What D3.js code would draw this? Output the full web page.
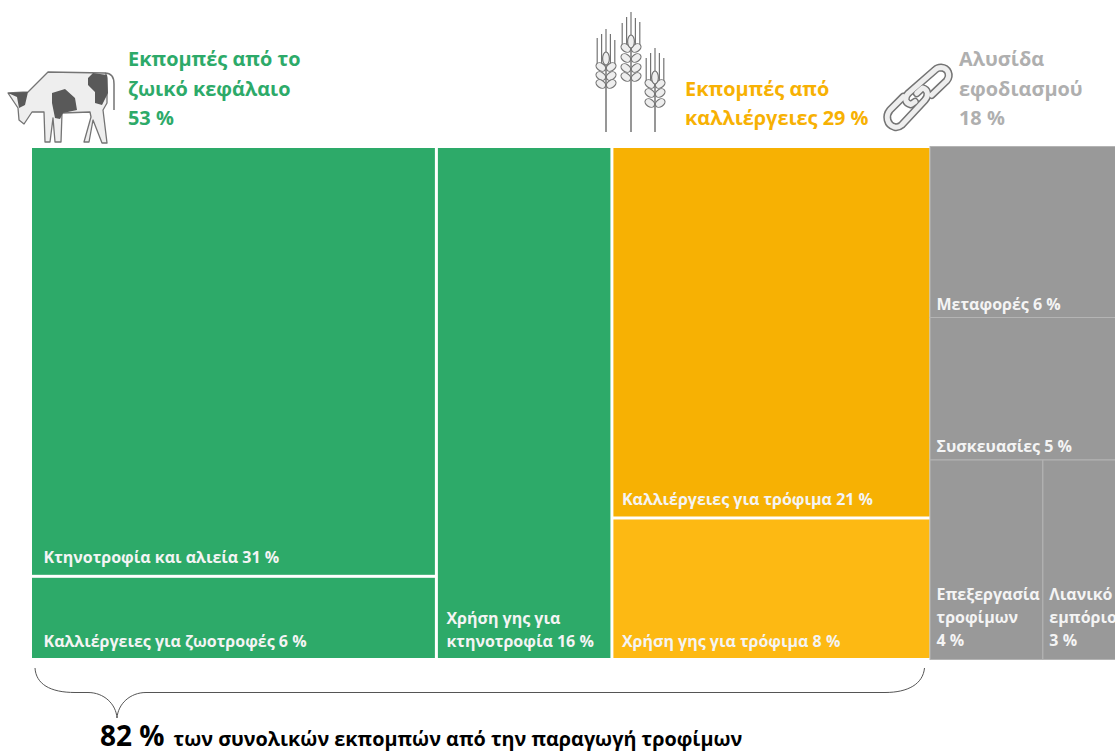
<!DOCTYPE html>
<html lang="el">
<head>
<meta charset="utf-8">
<title>Εκπομπές από την παραγωγή τροφίμων</title>
<script src="https://cdn.jsdelivr.net/npm/d3@7/dist/d3.min.js"></script>
<style>
  html, body { margin: 0; padding: 0; background: #fff; overflow: hidden; }
  svg { display: block; }
  text { font-family: "Open Sans", sans-serif; font-weight: 700; }
</style>
</head>
<body>
<div id="chart"></div>
<script>
// values (%)
const livestockLabels = [["Κτηνοτροφία και αλιεία 31 %"], ["Καλλιέργειες για ζωοτροφές 6 %"], ["Χρήση γης για", "κτηνοτροφία 16 %"]];
const livestockValues = [31, 6, 16];
const cropLabels = [["Καλλιέργειες για τρόφιμα 21 %"], ["Χρήση γης για τρόφιμα 8 %"]];
const cropValues = [21, 8];
const supplyLabels = [["Μεταφορές 6 %"], ["Συσκευασίες 5 %"], ["Επεξεργασία", "τροφίμων", "4 %"], ["Λιανικό", "εμπόριο", "3 %"]];
const supplyValues = [6, 5, 4, 3];
const headingLivestock = ["Εκπομπές από το", "ζωικό κεφάλαιο", "53 %"];
const headingCrops = ["Εκπομπές από", "καλλιέργειες 29 %"];
const headingSupply = ["Αλυσίδα", "εφοδιασμού", "18 %"];

const green = "#2DAA69", amber = "#F7B103", amberLight = "#FDB913", grey = "#999999";

const leaf = (labels, values, i, fill) => ({ lines: labels[i], value: values[i], fill });

const tree = {
  split: "x",
  children: [
    { split: "x", children: [
      { split: "y", children: [
        leaf(livestockLabels, livestockValues, 0, green),
        leaf(livestockLabels, livestockValues, 1, green)
      ]},
      leaf(livestockLabels, livestockValues, 2, green)
    ]},
    { split: "y", children: [
      leaf(cropLabels, cropValues, 0, amber),
      leaf(cropLabels, cropValues, 1, amberLight)
    ]},
    { split: "y", children: [
      leaf(supplyLabels, supplyValues, 0, grey),
      leaf(supplyLabels, supplyValues, 1, grey),
      { split: "x", children: [
        leaf(supplyLabels, supplyValues, 2, grey),
        leaf(supplyLabels, supplyValues, 3, grey)
      ]}
    ]}
  ]
};

const svg = d3.select("#chart").append("svg")
  .attr("width", 1115)
  .attr("height", 751);

const root = d3.hierarchy(tree).sum(d => d.value || 0);

d3.treemap()
  .size([1097, 513])
  .round(false)
  .tile((node, x0, y0, x1, y1) => {
    (node.data.split === "x" ? d3.treemapDice : d3.treemapSlice)(node, x0, y0, x1, y1);
  })(root);

const map = svg.append("g").attr("transform", "translate(30.5,146.5)");

const cells = map.selectAll("g.cell")
  .data(root.leaves())
  .join("g")
  .attr("class", "cell");

const isAmber = d => d.data.fill === amber || d.data.fill === amberLight;

// coloured cells are split by a white gap, the grey ones by a thin light line
cells.append("rect")
  .attr("x", d => d.x0 + (d.data.fill === grey ? 0 : 1.5))
  .attr("y", d => d.y0 + (d.data.fill === grey ? 0 : 1.5))
  .attr("width", d => d.x1 - d.x0 - (d.data.fill === grey ? 0 : isAmber(d) ? 2 : 3))
  .attr("height", d => d.y1 - d.y0 - (d.data.fill === grey ? 0 : 3))
  .attr("fill", d => d.data.fill)
  .attr("stroke", d => d.data.fill === grey ? "#B4B4B4" : "none")
  .attr("stroke-width", 1);

cells.each(function (d) {
  const isGrey = d.data.fill === grey;
  const n = d.data.lines.length;
  const bottom = d.y1 - (isGrey ? (n > 1 ? 13.5 : 8) : 13);
  const left = d.x0 + (isGrey ? 6.5 : (d.data.fill === green && n === 1 ? 13 : 10));
  d3.select(this).selectAll("text")
    .data(d.data.lines)
    .join("text")
    .attr("x", left)
    .attr("y", (t, i) => bottom - (n - 1 - i) * 23)
    .attr("font-size", 16)
    .attr("fill", "#F4F4F4")
    .text(t => t);
});

// headings above the map
function heading(lines, x, baselines, color) {
  svg.append("g").selectAll("text")
    .data(lines)
    .join("text")
    .attr("x", x)
    .attr("y", (t, i) => baselines[i])
    .attr("font-size", 19.9)
    .attr("fill", color)
    .text(t => t);
}
heading(headingLivestock, 128, [66, 96, 125], green);
heading(headingCrops, 685, [96, 125], amber);
heading(headingSupply, 959, [66, 96, 125], "#AFAFAF");

const iconLine = "#747474", iconFill = "#EEEEEE";

// cow
const cow = svg.append("g").attr("stroke-linejoin", "round");
cow.append("path")
  .attr("fill", iconFill).attr("stroke", iconLine).attr("stroke-width", 1.3)
  .attr("d", "M48,72 L105,73 Q107,75 107,80 L107,103 L103,110 L107,143 L102,143 L93,120 L89,142 L84,142 L91,117 L90,112 L62,113 L61,142 L55,142 L53,118 L50,142 L45,142 L44,112 L32,112 L24,124 L19,120 L18,108 L8,93 L28,92 Z");
cow.append("path")
  .attr("fill", "#595959")
  .attr("d", "M88,78 L93,73 L107,75 L108,93 L102,105 L95,103 L95,92 L88,85 Z");
cow.append("path")
  .attr("fill", "#595959")
  .attr("d", "M52,93 L65,89 L75,98 L77,110 L63,113 L60,119 L55,118 L52,103 Z");
cow.append("path")
  .attr("fill", "#595959")
  .attr("d", "M8,93 L28,92 L25,105 L19,108 L17,97 Z");
cow.append("path")
  .attr("fill", "none").attr("stroke", iconLine).attr("stroke-width", 1.5)
  .attr("d", "M105,73 Q114,73 114,84 L114,110");

// wheat: stalk, five awns and pairs of grains
function wheat(x, awnSpread, awnTops, earTop, grainRows) {
  const g = svg.append("g").attr("stroke", iconLine);
  g.append("line").attr("x1", x).attr("x2", x).attr("y1", earTop + 12).attr("y2", 132).attr("stroke-width", 1.5);
  awnTops.forEach((top, i) => {
    const ax = x + (i - 2) * awnSpread;
    g.append("line").attr("x1", ax).attr("x2", ax)
      .attr("y1", top).attr("y2", grainRows[0] - 2).attr("stroke-width", 1.2);
  });
  grainRows.forEach(cy => {
    [-1, 1].forEach(s => {
      const cx = x + s * 5.2;
      g.append("ellipse").attr("cx", cx).attr("cy", cy).attr("rx", 5.2).attr("ry", 3.7)
        .attr("transform", "rotate(" + (s * -35) + "," + cx + "," + cy + ")")
        .attr("fill", iconFill).attr("stroke-width", 1.2);
    });
  });
  g.append("ellipse").attr("cx", x).attr("cy", earTop + 6.5).attr("rx", 3.4).attr("ry", 6.5)
    .attr("fill", iconFill).attr("stroke-width", 1.2);
}
wheat(606, 4.4, [38, 34, 29, 34, 40], 52, [67, 76, 84]);
wheat(631, 4.4, [23, 17, 12, 18, 22], 35, [48, 58, 68, 77]);
wheat(655, 4.4, [58, 53, 48, 53, 58], 71, [84, 93, 103]);

// chain link icon, each link is an open hook so they appear to interlock
const chainPaths = [
  "M931.7,95 L946.7,80.7 C951,75 948,68 941,67.5 C938.5,67.5 936.5,68.5 935,70 L908.3,93.3 C904,98 905,103 911,104.5 L915,101.7",
  "M903.3,96.7 L890,110 C885,116 887,125 894.5,127 C897.5,127.5 900,126.5 901.7,125 L925,100 C929,95 928,89.5 922.5,88 L916.7,93.3"
];
[[iconLine, 8], [iconFill, 5]].forEach(([c, w]) => {
  svg.append("g").attr("fill", "none").attr("stroke", c).attr("stroke-width", w)
    .attr("stroke-linecap", "round").attr("stroke-linejoin", "round")
    .selectAll("path")
    .data(chainPaths)
    .join("path")
    .attr("d", d => d);
});

// brace under the green and amber blocks
svg.append("path")
  .attr("fill", "none").attr("stroke", "#555").attr("stroke-width", 1)
  .attr("d", "M35,668 C36,684 50,692.5 75,692.5 L88,692.5 C104,692.5 116,704 117,718 C118,704 130,692.5 146,692.5 L885,692.5 C908,692.5 923,684 924.5,668");

const note = svg.append("text").attr("x", 100).attr("y", 746).attr("fill", "#000");
note.append("tspan").attr("font-size", 28).text("82 %");
note.append("tspan").attr("font-size", 19.8).attr("dx", 9).text("των συνολικών εκπομπών από την παραγωγή τροφίμων");
</script>
</body>
</html>
